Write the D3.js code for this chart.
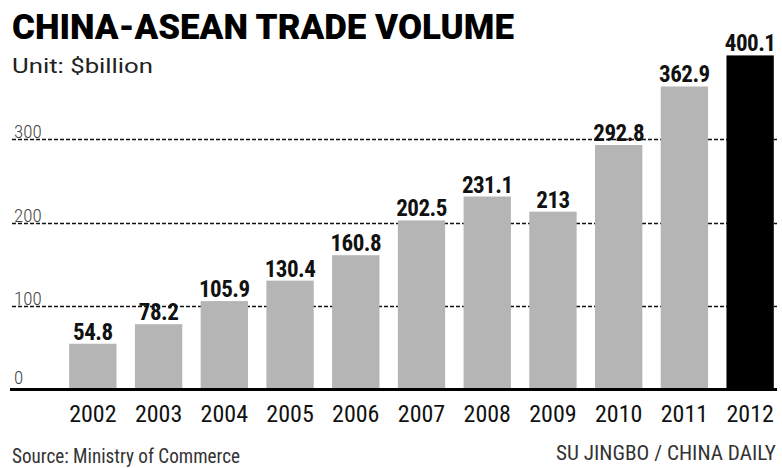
<!DOCTYPE html>
<html><head><meta charset="utf-8">
<script src="https://cdn.jsdelivr.net/npm/d3@7"></script>
<style>
body{margin:0;background:#fff;}
svg{display:block;}
.narrow{font-family:"Liberation Sans Narrow","Arial Narrow","Roboto Condensed","Liberation Sans",sans-serif;}
</style></head>
<body><svg id="chart" width="782" height="468"></svg>
<script>
const years = ["2002","2003","2004","2005","2006","2007","2008","2009","2010","2011","2012"];
const volumes = [54.8, 78.2, 105.9, 130.4, 160.8, 202.5, 231.1, 213, 292.8, 362.9, 400.1];
const yTicks = [0, 100, 200, 300];
const titleText = "CHINA-ASEAN TRADE VOLUME";
const unitText = "Unit: $billion";
const sourceText = "Source: Ministry of Commerce";
const creditText = "SU JINGBO / CHINA DAILY";

const svg = d3.select("#chart");
const y = d3.scaleLinear().domain([0, 400]).range([389.5, 55.5]);
const x = d3.scaleBand().domain(years).range([60, 783]).paddingInner(0.28).paddingOuter(0.14);

// gridlines
svg.append("g").selectAll("line").data(yTicks.filter(d => d > 0)).join("line")
  .attr("x1", 12).attr("x2", 777)
  .attr("y1", d => Math.round(y(d)) + 0.5).attr("y2", d => Math.round(y(d)) + 0.5)
  .attr("stroke", "#111").attr("stroke-width", 1.6).attr("stroke-dasharray", "4,2");

// y tick labels
svg.append("g").selectAll("text").data(yTicks).join("text")
  .attr("class", "narrow")
  .attr("x", 14).attr("y", d => d === 0 ? y(d) - 6 : y(d) - 1)
  .attr("font-size", 19).attr("fill", "#444").attr("font-weight", 300)
  .text(d => d);

// bars
svg.append("g").selectAll("rect").data(volumes).join("rect")
  .attr("x", (d, i) => x(years[i]))
  .attr("width", x.bandwidth())
  .attr("y", d => y(d))
  .attr("height", d => y(0) - y(d))
  .attr("fill", (d, i) => i === years.length - 1 ? "#000" : "#b5b5b5");

// value labels
svg.append("g").selectAll("text").data(volumes).join("text")
  .attr("class", "narrow")
  .attr("x", (d, i) => x(years[i]) + x.bandwidth() / 2)
  .attr("y", d => y(d) - 4)
  .attr("text-anchor", "middle")
  .attr("font-size", 23).attr("font-weight", "bold").attr("fill", "#111")
  .attr("letter-spacing", -0.5)
  .text(d => d);

// baseline
svg.append("line").attr("x1", 10).attr("x2", 777)
  .attr("y1", y(0)).attr("y2", y(0))
  .attr("stroke", "#000").attr("stroke-width", 3);

// x labels
svg.append("g").selectAll("text").data(years).join("text")
  .attr("class", "narrow")
  .attr("x", d => x(d) + x.bandwidth() / 2)
  .attr("y", 422)
  .attr("text-anchor", "middle")
  .attr("font-size", 24).attr("fill", "#111")
  .text(d => d);

// title
svg.append("text").attr("x", 12).attr("y", 39)
  .attr("font-family", "Roboto, 'Liberation Sans', sans-serif")
  .attr("font-weight", 900).attr("font-size", 35)
  .attr("textLength", 502).attr("lengthAdjust", "spacingAndGlyphs")
  .attr("fill", "#000").text(titleText);

svg.append("text").attr("x", 12).attr("y", 73)
  .attr("font-family", "Roboto, 'Liberation Sans', sans-serif")
  .attr("font-size", 20).attr("fill", "#222")
  .attr("textLength", 141).attr("lengthAdjust", "spacingAndGlyphs")
  .text(unitText);

svg.append("text").attr("class", "narrow").attr("x", 12).attr("y", 463)
  .attr("font-size", 19.5).attr("fill", "#333")
  .attr("textLength", 228).attr("lengthAdjust", "spacingAndGlyphs")
  .text(sourceText);

svg.append("text").attr("class", "narrow").attr("x", 556).attr("y", 460)
  .attr("font-size", 19.5).attr("fill", "#333")
  .attr("textLength", 220).attr("lengthAdjust", "spacingAndGlyphs")
  .text(creditText);
</script></body></html>
